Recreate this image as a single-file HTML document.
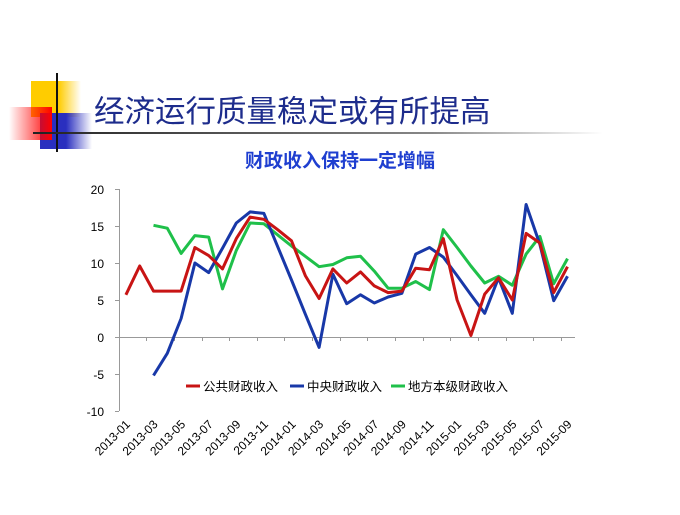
<!DOCTYPE html>
<html><head><meta charset="utf-8"><style>
body{margin:0;width:680px;height:510px;background:#fff;overflow:hidden;font-family:"Liberation Sans","Noto Sans CJK SC",sans-serif}
</style></head><body>
<svg width="680" height="510" xmlns="http://www.w3.org/2000/svg">
<defs>
<linearGradient id="gy" x1="0" x2="1"><stop offset="0" stop-color="#ffcc00"/><stop offset="0.55" stop-color="#ffcc00"/><stop offset="1" stop-color="#ffcc00" stop-opacity="0"/></linearGradient>
<linearGradient id="gb" x1="0" x2="1"><stop offset="0" stop-color="#2a2fbf"/><stop offset="0.5" stop-color="#2a2fbf"/><stop offset="1" stop-color="#2a2fbf" stop-opacity="0"/></linearGradient>
<linearGradient id="gr" x1="1" x2="0"><stop offset="0" stop-color="#ff0000"/><stop offset="1" stop-color="#ff0000" stop-opacity="0"/></linearGradient>
<linearGradient id="gl" x1="0" x2="1"><stop offset="0" stop-color="#222"/><stop offset="0.7" stop-color="#888"/><stop offset="1" stop-color="#fff"/></linearGradient>
</defs>
<rect x="31" y="81" width="50" height="36" fill="url(#gy)"/>
<rect x="40" y="113" width="52" height="36" fill="url(#gb)"/>
<rect x="9" y="107" width="43" height="33" fill="url(#gr)"/>
<line x1="57" y1="73" x2="57" y2="152" stroke="#111" stroke-width="2"/>
<rect x="33" y="132" width="570" height="2" fill="url(#gl)"/>
<text x="94" y="122" font-size="30.5" fill="#1d2c8c" font-family="Liberation Sans,'Noto Sans CJK SC',sans-serif">经济运行质量稳定或有所提高</text>
<text x="340" y="167" font-size="19" font-weight="bold" fill="#1f3fd0" text-anchor="middle" font-family="Liberation Sans,'Noto Sans CJK SC',sans-serif">财政收入保持一定增幅</text>
<g stroke="#999" stroke-width="1" fill="none">
<line x1="119.5" y1="189" x2="119.5" y2="411"/>
<line x1="119" y1="337.5" x2="575" y2="337.5"/>
<path d="M115 189.5h4M115 226.5h4M115 263.5h4M115 300.5h4M115 337.5h4M115 374.5h4M115 411.5h4"/>
<path d="M146.5 337v4M174.5 337v4M202.5 337v4M229.5 337v4M257.5 337v4M284.5 337v4M312.5 337v4M340.5 337v4M367.5 337v4M395.5 337v4M423.5 337v4M450.5 337v4M478.5 337v4M506.5 337v4M533.5 337v4M561.5 337v4"/>
</g>
<g font-size="12" fill="#000" text-anchor="end">
<text x="104" y="194">20</text><text x="104" y="231">15</text><text x="104" y="268">10</text><text x="104" y="305">5</text><text x="104" y="342">0</text><text x="104" y="379">-5</text><text x="104" y="416">-10</text>
</g>
<g id="xl" font-size="12" fill="#000" text-anchor="end"></g>
<polyline id="g" fill="none" stroke="#1fc04a" stroke-width="3" stroke-linejoin="round"/>
<polyline id="b" fill="none" stroke="#1838a8" stroke-width="3" stroke-linejoin="round"/>
<polyline id="r" fill="none" stroke="#c81414" stroke-width="3" stroke-linejoin="round"/>
<g font-size="12.5" fill="#000">
<line x1="186" y1="386" x2="200" y2="386" stroke="#c81414" stroke-width="3"/><text x="203" y="391">公共财政收入</text>
<line x1="290" y1="386" x2="304" y2="386" stroke="#1838a8" stroke-width="3"/><text x="307" y="391">中央财政收入</text>
<line x1="391" y1="386" x2="405" y2="386" stroke="#1fc04a" stroke-width="3"/><text x="408" y="391">地方本级财政收入</text>
</g>
</svg>
<script>
var X=i=>125.9+13.8*i, Y=v=>337-7.4*v;
function pts(d,s){return d.map((v,i)=>v==null?null:X(i+s).toFixed(1)+','+Y(v).toFixed(1)).filter(a=>a).join(' ');}
var r=[5.7,9.6,6.2,6.2,6.2,12.1,11,9.2,13.3,16.2,15.9,14.5,13,8.3,5.2,9.2,7.3,8.8,6.9,6.0,6.2,9.3,9.1,13.3,5,0.2,5.8,8,5,14,12.7,6,9.5];
var b=[-5.2,-2.2,2.5,10,8.7,12,15.4,16.9,16.7,12.2,7.7,3.1,-1.4,8.5,4.5,5.7,4.6,5.4,5.9,11.2,12.1,10.8,8.3,5.7,3.2,8,3.2,17.9,12.5,4.9,8.2];
var g=[15.1,14.7,11.3,13.7,13.5,6.5,11.7,15.4,15.3,13.8,12.3,10.9,9.5,9.8,10.7,10.9,8.9,6.6,6.6,7.5,6.4,14.5,12.1,9.6,7.3,8.2,7.0,11.2,13.6,7.2,10.6];
document.getElementById('r').setAttribute('points',pts(r,0));
document.getElementById('b').setAttribute('points',pts(b,2));
document.getElementById('g').setAttribute('points',pts(g,2));
var labs=['2013-01','2013-03','2013-05','2013-07','2013-09','2013-11','2014-01','2014-03','2014-05','2014-07','2014-09','2014-11','2015-01','2015-03','2015-05','2015-07','2015-09'];
var h='';labs.forEach((l,k)=>{var x=X(2*k)+5,y=425;h+='<text x="'+x+'" y="'+y+'" transform="rotate(-45 '+x+' '+y+')">'+l+'</text>';});
document.getElementById('xl').innerHTML=h;
</script>
</body></html>
